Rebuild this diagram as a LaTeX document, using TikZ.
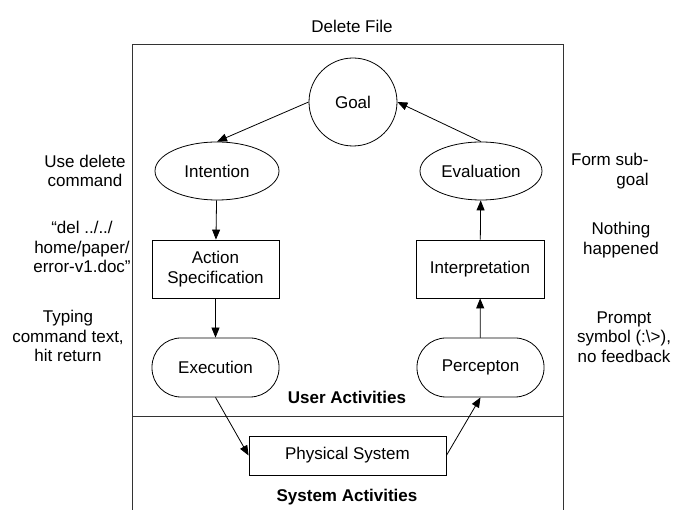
\documentclass[tikz,border=0pt]{standalone}
\usepackage{fontspec}
\setmainfont{Liberation Sans}
\usetikzlibrary{shapes.geometric,arrows.meta}
\begin{document}
\begin{tikzpicture}[x=1pt,y=-1pt,
  every node/.style={font=\fontsize{17}{19.5}\selectfont},
  oval/.style={draw,ellipse,inner sep=0pt,minimum width=124pt,minimum height=58pt},
  stepbox/.style={draw,rectangle,inner sep=0pt,minimum width=127pt,minimum height=58pt,align=center},
  pill/.style={draw,rectangle,rounded corners=29pt,inner sep=0pt,minimum width=127pt,minimum height=59pt},
  note/.style={align=center,inner sep=0pt},
  flow/.style={-{Triangle[length=10pt,width=8pt]},line width=0.8pt},
  line width=0.8pt]
\useasboundingbox (0,0) rectangle (681,510);
\coordinate (TL) at (132,44);
\coordinate (TR) at (563,44);
\coordinate (BL) at (132,510);
\coordinate (BR) at (563,510);
\draw[line width=0.9pt,black!80] (BL) -- (TL) -- (TR) -- (BR);
\draw[line width=0.9pt,black!80] (132,416) -- (563,416);
\node at (352,26) {Delete File};
\node[draw,circle,inner sep=0pt,minimum size=88pt] (goal) at (353,102) {Goal};
\node[oval] (intention) at (217,171) {Intention};
\node[oval,minimum width=122pt] (evaluation) at (481,171) {Evaluation};
\node[stepbox] (action) at (215.5,269) {Action\\Specification};
\node[stepbox,minimum width=128pt] (interp) at (480,269) {Interpretation};
\node[pill] (execution) at (215.5,367.5) {Execution};
\node[pill] (percep) at (480.5,367.5) {Percepton};
\node[stepbox,minimum width=197pt,minimum height=39pt] (physical) at (347.5,455.5) {Physical System};
\node[font=\fontsize{17}{19.5}\selectfont\bfseries] (user) at (347,397) {User Activities};
\node[font=\fontsize{17}{19.5}\selectfont\bfseries] (system) at (347,497) {System Activities};
\node[note] (n1) at (85,171) {Use delete\\command};
\node[note] (n2) at (82,247) {“del ../../\\home/paper/\\error-v1.doc”};
\node[note] (n3) at (68,336) {Typing\\command text,\\hit return};
\node[note,align=right,anchor=east] (n4) at (649,171) {Form sub-\\goal};
\node[note] (n5) at (621,240) {Nothing\\happened};
\node[note] (n6) at (624,337) {Prompt\\symbol (:\textbackslash>),\\no feedback};
\draw[flow] (goal.west) -- (intention.north);
\draw[flow] (intention) -- (action);
\draw[flow] (action) -- (execution);
\draw[flow] (execution.south) -- (physical.west);
\draw[flow] (physical.east) -- (percep.south);
\draw[flow] (percep) -- (interp);
\draw[flow] (interp) -- (evaluation);
\draw[flow] (evaluation.north) -- (goal.east);
\end{tikzpicture}
\end{document}
